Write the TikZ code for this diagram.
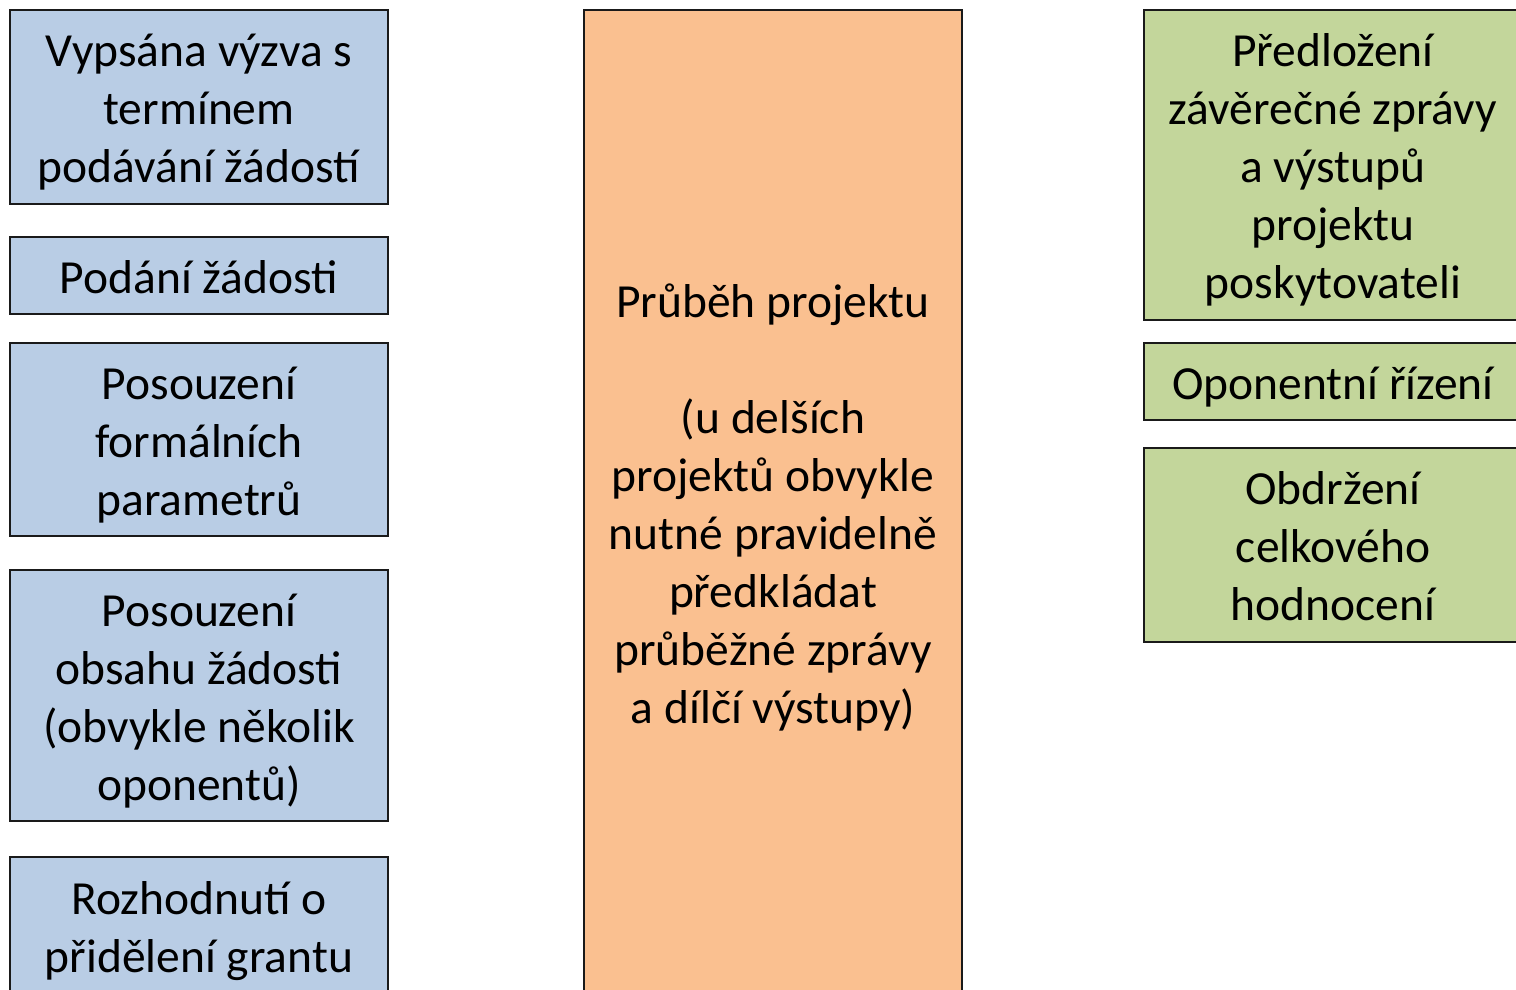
\documentclass[tikz,border=0pt]{standalone}
\usepackage{fontspec}
\setmainfont{Carlito}
\definecolor{bluefill}{HTML}{B9CDE5}
\definecolor{orangefill}{HTML}{FAC090}
\definecolor{greenfill}{HTML}{C3D69B}
\definecolor{edge}{HTML}{1A1A1A}
\newcommand{\fststrut}{\rule{0pt}{51pt}}
\begin{document}
\begin{tikzpicture}[x=1pt,y=-1pt,
  box/.style={draw=edge, line width=1.5pt, rectangle, minimum width=378pt, inner sep=0pt, align=center,
    font=\fontsize{47.5}{58}\selectfont,
    execute at end node={\rule[-16pt]{0pt}{16pt}}},
  bluebox/.style={box, fill=bluefill},
  orangebox/.style={box, fill=orangefill},
  greenbox/.style={box, fill=greenfill}]
\useasboundingbox (0,0) rectangle (1516,990);
\clip (0,0) rectangle (1516,990);
% left column
\node[bluebox, minimum height=194pt] (b1) at (199,107) {\fststrut Vypsána výzva s\\termínem\\podávání žádostí};
\node[bluebox, minimum height=77pt] (b2) at (199,275.5) {\fststrut Podání žádosti};
\node[bluebox, minimum height=193pt] (b3) at (199,439.5) {\fststrut Posouzení\\formálních\\parametrů};
\node[bluebox, minimum height=251pt] (b4) at (199,695.5) {\fststrut Posouzení\\obsahu žádosti\\(obvykle několik\\oponentů)};
\node[bluebox, minimum height=138pt] (b5) at (199,926) {\fststrut Rozhodnutí o\\přidělení grantu};
% middle
\node[orangebox, minimum height=985pt] (m) at (773,502.5) {\fststrut Průběh projektu\\[58pt](u delších\\projektů obvykle\\nutné pravidelně\\předkládat\\průběžné zprávy\\a dílčí výstupy)};
% right column
\node[greenbox, minimum height=310pt] (g1) at (1333,165) {\fststrut Předložení\\závěrečné zprávy\\a výstupů\\projektu\\poskytovateli};
\node[greenbox, minimum height=77pt] (g2) at (1333,381.5) {\fststrut Oponentní řízení};
\node[greenbox, minimum height=194pt] (g3) at (1333,545) {\fststrut Obdržení\\celkového\\hodnocení};
\end{tikzpicture}
\end{document}
